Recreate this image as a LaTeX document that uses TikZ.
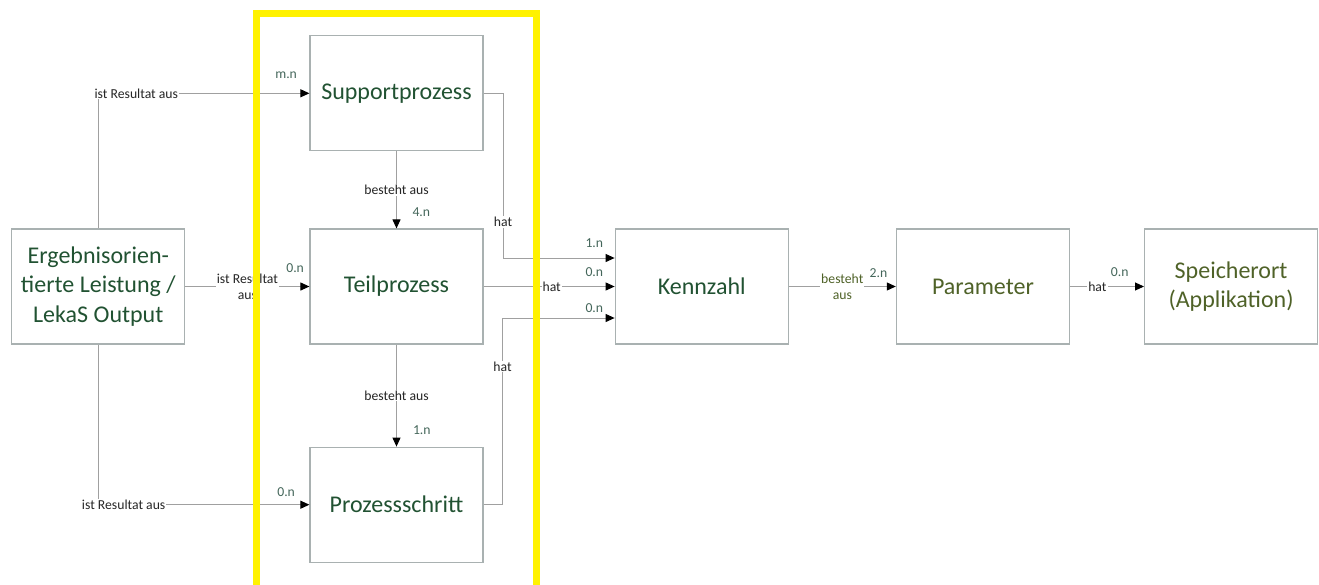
\documentclass[tikz,border=0pt]{standalone}
\usepackage{fontspec}
\setmainfont{Carlito}
\usetikzlibrary{positioning,fit,arrows.meta}
\definecolor{boxline}{HTML}{A9B1B1}
\definecolor{relline}{HTML}{A0A0A0}
\definecolor{entgreen}{HTML}{215232}
\definecolor{paramgreen}{HTML}{4F6228}
\definecolor{cardgreen}{HTML}{44665A}
\tikzset{entity/.style={draw=boxline, line width=1.2pt, minimum width=173pt, minimum height=115pt, inner sep=0pt, align=center, text=entgreen, font=\fontsize{24}{29.5}\selectfont}}
\tikzset{relarrow/.style={draw=relline, line width=1pt, -{Triangle[length=9pt,width=8pt,color=black]}}}
\tikzset{rel/.style={fill=white, inner sep=1pt, text=black!85, align=center, font=\fontsize{13.7}{16}\selectfont}}
\tikzset{card/.style={inner sep=0pt, text=cardgreen, font=\fontsize{13.7}{16}\selectfont}}
\tikzset{hilite/.style={draw=yellow, line width=7pt, inner xsep=53pt, inner ysep=24.25pt, yshift=-2.75pt}}

\begin{document}
\begin{tikzpicture}
\useasboundingbox (0pt,0pt) rectangle (1319pt,-584pt);
% entities
\node[entity] (teil) at (396.5pt,-286.5pt) {Teilprozess};
\node[entity, above=77pt of teil] (supp) {Supportprozess};
\node[entity, below=102pt of teil] (schritt) {Prozessschritt};
\node[entity, left=124pt of teil] (erg) {Ergebnisorien-\\tierte Leistung /\\LekaS Output};
\node[entity, right=131pt of teil] (kenn) {Kennzahl};
\node[entity, right=107pt of kenn, text=paramgreen] (param) {Parameter};
\node[entity, right=74pt of param, text=paramgreen] (ort) {Speicherort\\(Applikation)};
% relations
\draw[relarrow] (erg.north) |- node[rel, pos=0.59] {ist Resultat aus} node[card, at end, anchor=south east, xshift=-12pt, yshift=14.5pt] {m.n} (supp.west);
\draw[relarrow] (erg) -- node[rel] {ist Resultat\\aus} node[card, at end, anchor=south east, xshift=-5pt, yshift=13.5pt] {0.n} (teil);
\draw[relarrow] (erg.south) |- node[rel, pos=0.56] {ist Resultat aus} node[card, at end, anchor=south east, xshift=-14pt, yshift=8pt] {0.n} (schritt.west);
\draw[relarrow] (supp) -- node[rel] {besteht aus} node[card, at end, anchor=south west, xshift=15.5pt, yshift=11pt] {4.n} (teil);
\draw[relarrow] (teil) -- node[rel] {besteht aus} node[card, at end, anchor=south west, xshift=16pt, yshift=12pt] {1.n} (schritt);
\draw[relarrow] (supp.east) -- ++(19.5pt,0) |- node[rel, pos=0.39] {hat} node[card, at end, anchor=south east, xshift=-11pt, yshift=10pt] {1.n} ([yshift=28.5pt]kenn.west);
\draw[relarrow] (teil) -- node[rel, pos=0.52] {hat} node[card, at end, anchor=south east, xshift=-11pt, yshift=9.5pt] {0.n} (kenn);
\draw[relarrow] (schritt.east) -- ++(19pt,0) |- node[rel, pos=0.37] {hat} node[card, at end, anchor=south east, xshift=-11pt, yshift=5pt] {0.n} ([yshift=-31.5pt]kenn.west);
\draw[relarrow] (kenn) -- node[rel, text=paramgreen] {besteht\\aus} node[card, at end, anchor=south east, xshift=-8pt, yshift=8.5pt] {2.n} (param);
\draw[relarrow] (param) -- node[rel, pos=0.37] {hat} node[card, at end, anchor=south east, xshift=-15pt, yshift=9.5pt] {0.n} (ort);
% highlight
\node[hilite, fit=(supp)(schritt)] (grp) {};
\end{tikzpicture}
\end{document}
